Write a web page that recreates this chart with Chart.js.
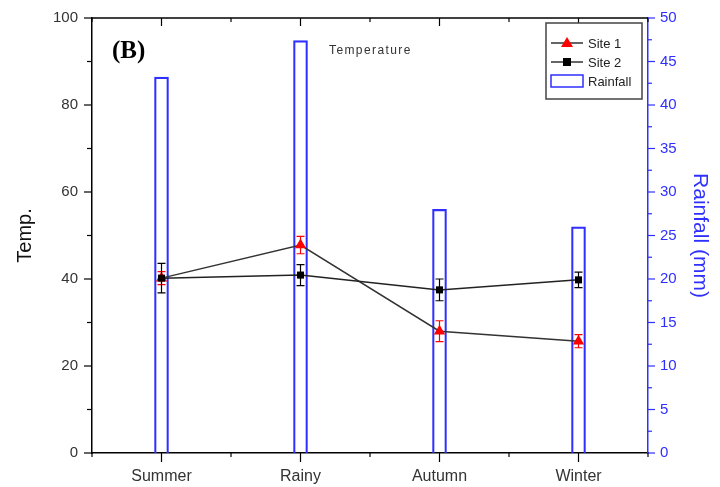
<!DOCTYPE html>
<html>
<head>
<meta charset="utf-8">
<script src="https://cdn.jsdelivr.net/npm/chart.js@4/dist/chart.umd.min.js"></script>
<style>
html,body{margin:0;padding:0;background:#fff;}
#wrap{width:720px;height:487px;}
</style>
</head>
<body>
<div id="wrap"><canvas id="c" width="720" height="487"></canvas></div>
<script>
const seasons = ["Summer", "Rainy", "Autumn", "Winter"];
const site1Temp = [40.2, 47.8, 28.0, 25.7];
const site1Err = [1.5, 2.0, 2.4, 1.5];
const site2Temp = [40.2, 40.9, 37.5, 39.8];
const site2Err = [3.4, 2.4, 2.5, 1.8];
const rainfall = [43.2, 47.4, 28.0, 26.0];
const tempTicks = [0, 20, 40, 60, 80, 100];
const rainTicks = [0, 5, 10, 15, 20, 25, 30, 35, 40, 45, 50];

const BLUE = '#2f2fff';
const FONT = '"Liberation Sans", Arial, sans-serif';

const errorBars = {
  id: 'errorBars',
  afterDatasetsDraw(chart) {
    const ctx = chart.ctx;
    const y = chart.scales.y;
    const sets = [
      {idx: 1, vals: site1Temp, errs: site1Err, color: '#ff0000'},
      {idx: 2, vals: site2Temp, errs: site2Err, color: '#000000'}
    ];
    ctx.save();
    ctx.lineWidth = 1.2;
    sets.forEach(s => {
      const meta = chart.getDatasetMeta(s.idx);
      ctx.strokeStyle = s.color;
      meta.data.forEach((pt, i) => {
        const x = pt.x;
        const yt = y.getPixelForValue(s.vals[i] + s.errs[i]);
        const yb = y.getPixelForValue(s.vals[i] - s.errs[i]);
        ctx.beginPath();
        ctx.moveTo(x, yt); ctx.lineTo(x, yb);
        ctx.moveTo(x - 4, yt); ctx.lineTo(x + 4, yt);
        ctx.moveTo(x - 4, yb); ctx.lineTo(x + 4, yb);
        ctx.stroke();
      });
    });
    ctx.restore();
  }
};

const axisDecor = {
  id: 'axisDecor',
  afterDraw(chart) {
    const ctx = chart.ctx;
    const a = chart.chartArea;
    const x = chart.scales.x, y = chart.scales.y, y1 = chart.scales.y1;
    ctx.save();
    ctx.lineWidth = 1.5;
    // top border
    ctx.strokeStyle = '#000';
    ctx.beginPath(); ctx.moveTo(a.left, a.top); ctx.lineTo(a.right, a.top); ctx.stroke();
    ctx.lineWidth = 1.2;
    // left ticks
    for (let v = 0; v <= 100; v += 10) {
      const p = y.getPixelForValue(v);
      const len = (v % 20 === 0) ? 8 : 5;
      ctx.beginPath(); ctx.moveTo(a.left - len, p); ctx.lineTo(a.left, p); ctx.stroke();
    }
    // bottom / top ticks
    const n = seasons.length;
    const step = (a.right - a.left) / n;
    for (let i = 0; i <= n; i++) {
      const px = a.left + i * step;
      ctx.beginPath(); ctx.moveTo(px, a.bottom); ctx.lineTo(px, a.bottom + 4); ctx.stroke();
      ctx.beginPath(); ctx.moveTo(px, a.top); ctx.lineTo(px, a.top + 4); ctx.stroke();
    }
    seasons.forEach((s, i) => {
      const px = x.getPixelForValue(i);
      ctx.beginPath(); ctx.moveTo(px, a.bottom); ctx.lineTo(px, a.bottom + 9); ctx.stroke();
      ctx.beginPath(); ctx.moveTo(px, a.top); ctx.lineTo(px, a.top + 8); ctx.stroke();
    });
    // right ticks
    ctx.strokeStyle = BLUE;
    for (let v = 0; v <= 50; v += 2.5) {
      const p = y1.getPixelForValue(v);
      const len = (v % 5 === 0) ? 7 : 4;
      ctx.beginPath(); ctx.moveTo(a.right, p); ctx.lineTo(a.right + len, p); ctx.stroke();
    }
    // (B) label
    ctx.fillStyle = '#000';
    ctx.font = 'bold 25px "Liberation Serif", "Times New Roman", serif';
    ctx.textBaseline = 'alphabetic';
    ctx.textAlign = 'left';
    ctx.fillText('(B)', 112, 58);
    // Temperature note
    ctx.fillStyle = '#333';
    ctx.font = '12px ' + FONT;
    ctx.letterSpacing = '1.4px';
    ctx.textBaseline = 'middle';
    ctx.fillText('Temperature', 329, 51);
    ctx.letterSpacing = '0px';
    // legend
    const bx = 546, by = 23, bw = 96, bh = 76;
    ctx.fillStyle = '#fff';
    ctx.fillRect(bx, by, bw, bh);
    ctx.strokeStyle = '#444';
    ctx.lineWidth = 1.5;
    ctx.strokeRect(bx, by, bw, bh);
    const ds = chart.data.datasets;
    const rows = [
      {d: ds[1], y: 43},
      {d: ds[2], y: 62},
      {d: ds[0], y: 81}
    ];
    ctx.font = '13px ' + FONT;
    ctx.textBaseline = 'middle';
    rows.forEach(r => {
      if (r.d.type === 'bar') {
        ctx.strokeStyle = r.d.borderColor;
        ctx.lineWidth = 1.5;
        ctx.strokeRect(551, r.y - 6, 32, 12);
      } else {
        ctx.strokeStyle = '#333';
        ctx.lineWidth = 1.5;
        ctx.beginPath(); ctx.moveTo(551, r.y); ctx.lineTo(583, r.y); ctx.stroke();
        ctx.fillStyle = r.d.pointBackgroundColor;
        if (r.d.pointStyle === 'triangle') {
          ctx.beginPath();
          ctx.moveTo(567, r.y - 6); ctx.lineTo(573, r.y + 4); ctx.lineTo(561, r.y + 4); ctx.closePath();
          ctx.fill();
        } else {
          ctx.fillRect(563, r.y - 4, 8, 8);
        }
      }
      ctx.fillStyle = '#222';
      ctx.fillText(r.d.label, 588, r.y + 1);
    });
    ctx.restore();
  }
};

new Chart(document.getElementById('c'), {
  data: {
    labels: seasons,
    datasets: [
      {
        type: 'bar', label: 'Rainfall', data: rainfall, yAxisID: 'y1',
        backgroundColor: 'rgba(0,0,0,0)', borderColor: BLUE, borderWidth: 1.5,
        barThickness: 14, order: 3
      },
      {
        type: 'line', label: 'Site 1', data: site1Temp, yAxisID: 'y',
        borderColor: '#333', borderWidth: 1.5, tension: 0,
        pointStyle: 'triangle', pointRadius: 6.5, pointBackgroundColor: '#ff0000',
        pointBorderColor: '#ff0000', pointBorderWidth: 0, order: 1
      },
      {
        type: 'line', label: 'Site 2', data: site2Temp, yAxisID: 'y',
        borderColor: '#222', borderWidth: 1.5, tension: 0,
        pointStyle: 'rect', pointRadius: 5, pointBackgroundColor: '#000',
        pointBorderColor: '#000', pointBorderWidth: 0, order: 0
      }
    ]
  },
  options: {
    responsive: false,
    animation: false,
    devicePixelRatio: 1,
    layout: {padding: {top: 18, left: 0, right: 0, bottom: 0}},
    plugins: {legend: {display: false}, tooltip: {enabled: false}},
    scales: {
      x: {
        type: 'category', offset: true,
        grid: {display: false, drawTicks: true, tickLength: 8},
        border: {display: true, color: '#000', width: 1.5},
        ticks: {color: '#333', font: {family: FONT, size: 16}, padding: 6, maxRotation: 0},
        afterFit(s) { s.height = 34; }
      },
      y: {
        position: 'left', min: 0, max: 100,
        afterBuildTicks(s) { s.ticks = tempTicks.map(v => ({value: v})); },
        grid: {display: false, drawTicks: true, tickLength: 8},
        border: {display: true, color: '#000', width: 1.5},
        ticks: {color: '#333', font: {family: FONT, size: 15}, padding: 6},
        title: {display: true, text: 'Temp.', color: '#111', font: {family: FONT, size: 20}, padding: {top: 13, bottom: 0}},
        afterFit(s) { s.width = 92; }
      },
      y1: {
        position: 'right', min: 0, max: 50,
        afterBuildTicks(s) { s.ticks = rainTicks.map(v => ({value: v})); },
        grid: {display: false, drawTicks: true, tickLength: 7},
        border: {display: true, color: BLUE, width: 1.5},
        ticks: {color: BLUE, font: {family: FONT, size: 15}, padding: 5},
        title: {display: true, text: 'Rainfall (mm)', color: BLUE, font: {family: FONT, size: 21}, padding: {top: 8, bottom: 0}},
        afterFit(s) { s.width = 72; }
      }
    }
  },
  plugins: [errorBars, axisDecor]
});
</script>
</body>
</html>
